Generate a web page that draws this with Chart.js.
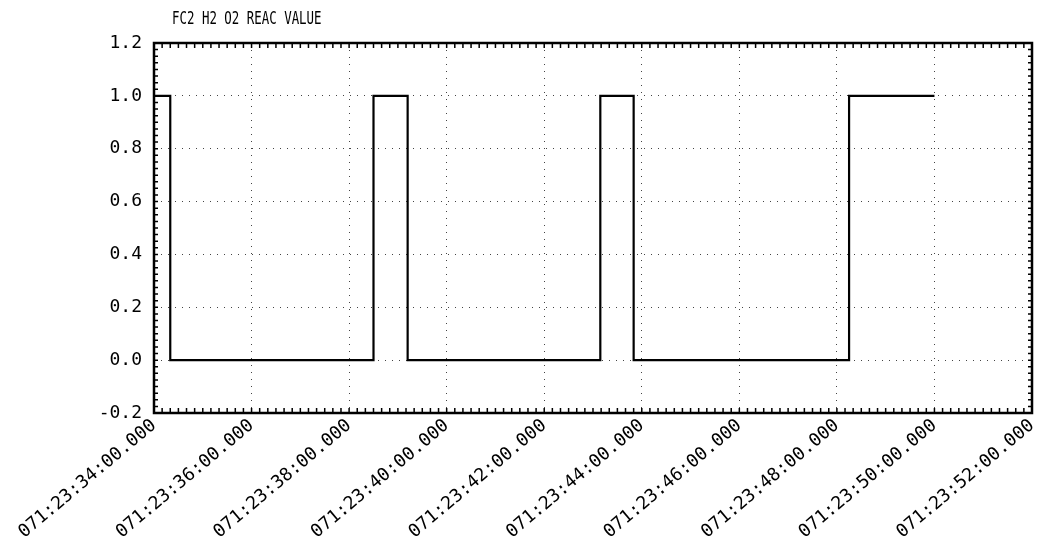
<!DOCTYPE html>
<html>
<head>
<meta charset="utf-8">
<script src="https://cdn.jsdelivr.net/npm/chart.js@4.4.1/dist/chart.umd.min.js"></script>
<style>
  html, body { margin: 0; padding: 0; background: #fff; }
  #wrap { width: 1050px; height: 548px; }
</style>
</head>
<body>
<div id="wrap"><canvas id="chart" width="1050" height="548"></canvas></div>
<script>
// seconds after 071:23:34:00.000 where the valve state changes, and the new state
const changeSeconds = [0, 20, 270, 312, 549, 590, 855, 960];
const valveState = [1, 0, 1, 0, 1, 0, 1, 1];
const yTicks = [-0.2, 0, 0.2, 0.4, 0.6, 0.8, 1.0, 1.2];
const titleText = 'FC2 H2 O2 REAC VALUE';
const dayHour = '071:23';
const startMinute = 34;

const plotFont = { family: 'DejaVu Sans Mono', size: 18 };

function timeLabel(sec) {
    const m = startMinute + Math.round(sec / 60);
    return dayHour + ':' + String(m).padStart(2, '0') + ':00.000';
}

const framePlugin = {
    id: 'frame',
    afterDraw(chart) {
        const { ctx, chartArea: a, scales } = chart;
        ctx.save();
        ctx.strokeStyle = '#000';
        ctx.lineWidth = 1.5;
        // minor ticks along the frame
        ctx.beginPath();
        for (let s = 0; s <= 1080; s += 10) {
            const x = scales.x.getPixelForValue(s);
            ctx.moveTo(x, a.bottom); ctx.lineTo(x, a.bottom - 5);
            ctx.moveTo(x, a.top); ctx.lineTo(x, a.top + 5);
        }
        for (let v = -0.2; v <= 1.2001; v += 0.025) {
            const y = scales.y.getPixelForValue(v);
            ctx.moveTo(a.left, y); ctx.lineTo(a.left + 4, y);
            ctx.moveTo(a.right, y); ctx.lineTo(a.right - 4, y);
        }
        ctx.stroke();
        ctx.lineWidth = 2.5;
        ctx.strokeRect(a.left, a.top, a.right - a.left, a.bottom - a.top);
        // title, narrow like the plotter lettering
        ctx.fillStyle = '#000';
        ctx.font = '18px "DejaVu Sans Mono"';
        ctx.textBaseline = 'middle';
        ctx.translate(a.left + 18, 19);
        ctx.scale(0.69, 1);
        ctx.fillText(titleText, 0, 0);
        ctx.restore();
    }
};

new Chart(document.getElementById('chart'), {
    type: 'line',
    data: {
        datasets: [{
            data: changeSeconds.map((s, i) => ({ x: s, y: valveState[i] })),
            stepped: 'before',
            borderColor: '#000',
            borderWidth: 2.2,
            pointRadius: 0,
            fill: false
        }]
    },
    options: {
        responsive: false,
        animation: false,
        layout: { padding: { top: 43, right: 18, left: 0, bottom: 0 } },
        plugins: { legend: { display: false }, tooltip: { enabled: false } },
        scales: {
            x: {
                type: 'linear',
                min: 0,
                max: 1080,
                afterFit(scale) { scale.height = 135; },
                afterBuildTicks(scale) {
                    scale.ticks = [];
                    for (let s = 0; s <= 1080; s += 120) scale.ticks.push({ value: s });
                },
                ticks: {
                    color: '#000',
                    font: plotFont,
                    minRotation: 40,
                    maxRotation: 40,
                    padding: 2,
                    callback: (v) => timeLabel(v)
                },
                grid: { color: '#444', lineWidth: 1, drawTicks: false },
                border: { display: false, dash: [1, 6] }
            },
            y: {
                min: -0.2,
                max: 1.2,
                afterFit(scale) { scale.width = 154; },
                afterBuildTicks(scale) {
                    scale.ticks = yTicks.map(v => ({ value: v }));
                },
                ticks: {
                    color: '#000',
                    font: plotFont,
                    padding: 12,
                    callback: (v) => v.toFixed(1)
                },
                grid: { color: '#444', lineWidth: 1, drawTicks: false },
                border: { display: false, dash: [1, 6] }
            }
        }
    },
    plugins: [framePlugin]
});
</script>
</body>
</html>
